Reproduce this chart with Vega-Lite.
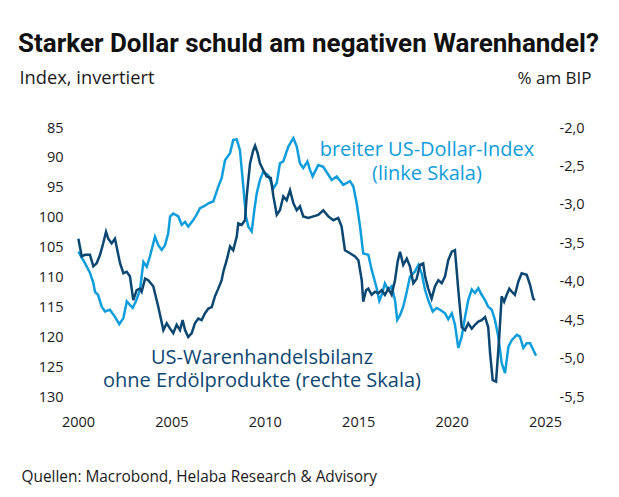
{
  "$schema": "https://vega.github.io/schema/vega-lite/v6.json",
  "width": 467,
  "height": 269,
  "autosize": {"type": "none"},
  "padding": {"left": 78, "top": 128, "right": 74, "bottom": 100},
  "background": "white",
  "config": {
    "view": {"stroke": null},
    "font": "Open Sans",
    "axis": {"grid": false, "domain": false, "ticks": false, "labelOverlap": false, "labelFontSize": 14.5, "labelColor": "#1a1a1a", "titleColor": "#1a1a1a", "titleFontWeight": "normal", "labelFont": "Open Sans", "titleFont": "Open Sans"}
  },
  "title": {
    "text": "Starker Dollar schuld am negativen Warenhandel?",
    "anchor": "start",
    "frame": "group",
    "dx": -60,
    "offset": 11,
    "fontSize": 26,
    "fontWeight": "bold",
    "color": "#111111",
    "font": "Roboto"
  },
  "datasets": {
    "usd": [
      {"t": 2000.02, "v": 105.7}, {"t": 2000.37, "v": 107.6}, {"t": 2000.64, "v": 109.2}, {"t": 2000.82, "v": 110.9},
      {"t": 2000.91, "v": 112.4}, {"t": 2001.07, "v": 112.9}, {"t": 2001.27, "v": 114.9}, {"t": 2001.45, "v": 115.7},
      {"t": 2001.71, "v": 115.4}, {"t": 2001.98, "v": 116.6}, {"t": 2002.21, "v": 117.8}, {"t": 2002.43, "v": 116.8},
      {"t": 2002.61, "v": 114.0}, {"t": 2002.78, "v": 114.6}, {"t": 2002.93, "v": 115.1}, {"t": 2003.10, "v": 114.0},
      {"t": 2003.32, "v": 112.1}, {"t": 2003.50, "v": 107.4}, {"t": 2003.68, "v": 108.2}, {"t": 2003.85, "v": 106.5},
      {"t": 2004.12, "v": 103.2}, {"t": 2004.30, "v": 104.6}, {"t": 2004.48, "v": 105.4}, {"t": 2004.66, "v": 104.6},
      {"t": 2004.83, "v": 102.6}, {"t": 2004.93, "v": 99.8}, {"t": 2005.10, "v": 99.3}, {"t": 2005.37, "v": 99.8},
      {"t": 2005.55, "v": 101.2}, {"t": 2005.73, "v": 100.7}, {"t": 2005.90, "v": 101.5}, {"t": 2006.17, "v": 100.4},
      {"t": 2006.35, "v": 99.5}, {"t": 2006.53, "v": 98.4}, {"t": 2006.80, "v": 98.0}, {"t": 2006.98, "v": 97.6},
      {"t": 2007.24, "v": 97.3}, {"t": 2007.51, "v": 94.8}, {"t": 2007.69, "v": 93.4}, {"t": 2007.87, "v": 90.4},
      {"t": 2008.14, "v": 89.2}, {"t": 2008.31, "v": 87.0}, {"t": 2008.50, "v": 86.9}, {"t": 2008.67, "v": 88.7},
      {"t": 2008.85, "v": 94.8}, {"t": 2008.99, "v": 99.8}, {"t": 2009.12, "v": 101.5}, {"t": 2009.30, "v": 102.3},
      {"t": 2009.44, "v": 98.7}, {"t": 2009.57, "v": 95.9}, {"t": 2009.74, "v": 93.7}, {"t": 2009.92, "v": 92.3},
      {"t": 2010.19, "v": 92.9}, {"t": 2010.46, "v": 95.1}, {"t": 2010.64, "v": 94.2}, {"t": 2010.81, "v": 90.9},
      {"t": 2010.99, "v": 90.6}, {"t": 2011.26, "v": 88.1}, {"t": 2011.53, "v": 86.7}, {"t": 2011.71, "v": 88.1},
      {"t": 2011.88, "v": 90.9}, {"t": 2012.06, "v": 91.7}, {"t": 2012.28, "v": 90.6}, {"t": 2012.42, "v": 92.0},
      {"t": 2012.56, "v": 93.1}, {"t": 2012.86, "v": 91.2}, {"t": 2013.13, "v": 91.5}, {"t": 2013.58, "v": 93.7},
      {"t": 2013.85, "v": 93.1}, {"t": 2014.20, "v": 94.5}, {"t": 2014.56, "v": 93.9}, {"t": 2014.74, "v": 94.8},
      {"t": 2014.92, "v": 97.6}, {"t": 2015.10, "v": 101.5}, {"t": 2015.27, "v": 106.0}, {"t": 2015.54, "v": 106.2},
      {"t": 2015.72, "v": 108.7}, {"t": 2015.99, "v": 111.8}, {"t": 2016.13, "v": 113.9}, {"t": 2016.26, "v": 112.9},
      {"t": 2016.43, "v": 111.0}, {"t": 2016.61, "v": 112.1}, {"t": 2016.79, "v": 111.5}, {"t": 2016.97, "v": 113.8},
      {"t": 2017.09, "v": 117.1}, {"t": 2017.24, "v": 116.3}, {"t": 2017.41, "v": 114.9}, {"t": 2017.60, "v": 112.4},
      {"t": 2017.77, "v": 109.9}, {"t": 2018.04, "v": 109.0}, {"t": 2018.22, "v": 107.9}, {"t": 2018.40, "v": 109.3},
      {"t": 2018.58, "v": 112.1}, {"t": 2018.75, "v": 113.8}, {"t": 2018.99, "v": 115.7}, {"t": 2019.20, "v": 115.1},
      {"t": 2019.38, "v": 115.4}, {"t": 2019.65, "v": 116.0}, {"t": 2019.82, "v": 117.0}, {"t": 2020.01, "v": 116.0},
      {"t": 2020.18, "v": 117.9}, {"t": 2020.36, "v": 121.8}, {"t": 2020.54, "v": 119.9}, {"t": 2020.72, "v": 116.6},
      {"t": 2020.89, "v": 113.8}, {"t": 2021.08, "v": 112.0}, {"t": 2021.25, "v": 112.6}, {"t": 2021.43, "v": 111.8},
      {"t": 2021.61, "v": 112.9}, {"t": 2021.79, "v": 113.8}, {"t": 2021.96, "v": 114.9}, {"t": 2022.15, "v": 115.4},
      {"t": 2022.32, "v": 117.1}, {"t": 2022.50, "v": 119.9}, {"t": 2022.68, "v": 124.3}, {"t": 2022.86, "v": 126.0},
      {"t": 2023.04, "v": 121.6}, {"t": 2023.22, "v": 120.5}, {"t": 2023.49, "v": 119.6}, {"t": 2023.66, "v": 119.9},
      {"t": 2023.84, "v": 121.8}, {"t": 2024.02, "v": 121.0}, {"t": 2024.20, "v": 121.0}, {"t": 2024.37, "v": 122.1},
      {"t": 2024.52, "v": 123.1}
    ],
    "tb": [
      {"t": 2000.02, "v": -3.44}, {"t": 2000.20, "v": -3.67}, {"t": 2000.37, "v": -3.65}, {"t": 2000.64, "v": -3.65},
      {"t": 2000.82, "v": -3.80}, {"t": 2001.00, "v": -3.76}, {"t": 2001.18, "v": -3.65}, {"t": 2001.35, "v": -3.50},
      {"t": 2001.50, "v": -3.35}, {"t": 2001.62, "v": -3.44}, {"t": 2001.80, "v": -3.50}, {"t": 2001.98, "v": -3.44},
      {"t": 2002.25, "v": -3.76}, {"t": 2002.43, "v": -3.89}, {"t": 2002.61, "v": -3.87}, {"t": 2002.78, "v": -3.93},
      {"t": 2002.96, "v": -4.24}, {"t": 2003.14, "v": -4.11}, {"t": 2003.32, "v": -4.09}, {"t": 2003.41, "v": -4.13},
      {"t": 2003.59, "v": -3.96}, {"t": 2003.76, "v": -3.98}, {"t": 2004.03, "v": -4.06}, {"t": 2004.30, "v": -4.33},
      {"t": 2004.57, "v": -4.63}, {"t": 2004.75, "v": -4.54}, {"t": 2004.93, "v": -4.61}, {"t": 2005.10, "v": -4.67},
      {"t": 2005.28, "v": -4.56}, {"t": 2005.46, "v": -4.63}, {"t": 2005.60, "v": -4.50}, {"t": 2005.73, "v": -4.63},
      {"t": 2005.90, "v": -4.72}, {"t": 2006.09, "v": -4.67}, {"t": 2006.26, "v": -4.54}, {"t": 2006.44, "v": -4.48},
      {"t": 2006.62, "v": -4.50}, {"t": 2006.80, "v": -4.41}, {"t": 2006.98, "v": -4.35}, {"t": 2007.16, "v": -4.33},
      {"t": 2007.33, "v": -4.19}, {"t": 2007.51, "v": -4.09}, {"t": 2007.69, "v": -3.98}, {"t": 2007.78, "v": -3.87},
      {"t": 2007.96, "v": -3.72}, {"t": 2008.14, "v": -3.54}, {"t": 2008.31, "v": -3.59}, {"t": 2008.50, "v": -3.41},
      {"t": 2008.58, "v": -3.24}, {"t": 2008.76, "v": -3.26}, {"t": 2008.94, "v": -3.20}, {"t": 2009.03, "v": -2.89},
      {"t": 2009.21, "v": -2.46}, {"t": 2009.38, "v": -2.29}, {"t": 2009.48, "v": -2.23}, {"t": 2009.62, "v": -2.33},
      {"t": 2009.74, "v": -2.46}, {"t": 2009.92, "v": -2.55}, {"t": 2010.10, "v": -2.63}, {"t": 2010.32, "v": -2.65},
      {"t": 2010.46, "v": -2.89}, {"t": 2010.64, "v": -3.13}, {"t": 2010.81, "v": -3.07}, {"t": 2010.99, "v": -2.89},
      {"t": 2011.17, "v": -2.94}, {"t": 2011.35, "v": -2.81}, {"t": 2011.53, "v": -2.98}, {"t": 2011.71, "v": -3.07},
      {"t": 2011.88, "v": -3.02}, {"t": 2012.06, "v": -3.15}, {"t": 2012.33, "v": -3.17}, {"t": 2012.60, "v": -3.15},
      {"t": 2012.86, "v": -3.13}, {"t": 2013.13, "v": -3.07}, {"t": 2013.40, "v": -3.15}, {"t": 2013.67, "v": -3.20},
      {"t": 2013.93, "v": -3.17}, {"t": 2014.11, "v": -3.28}, {"t": 2014.29, "v": -3.59}, {"t": 2014.56, "v": -3.63},
      {"t": 2014.83, "v": -3.67}, {"t": 2015.01, "v": -3.72}, {"t": 2015.19, "v": -3.98}, {"t": 2015.27, "v": -4.26},
      {"t": 2015.42, "v": -4.11}, {"t": 2015.54, "v": -4.09}, {"t": 2015.72, "v": -4.17}, {"t": 2015.90, "v": -4.13},
      {"t": 2016.08, "v": -4.15}, {"t": 2016.26, "v": -4.11}, {"t": 2016.43, "v": -4.17}, {"t": 2016.61, "v": -4.09},
      {"t": 2016.79, "v": -4.17}, {"t": 2016.97, "v": -3.98}, {"t": 2017.11, "v": -3.74}, {"t": 2017.24, "v": -3.61},
      {"t": 2017.41, "v": -3.78}, {"t": 2017.60, "v": -3.70}, {"t": 2017.77, "v": -3.80}, {"t": 2017.95, "v": -4.02},
      {"t": 2018.13, "v": -3.96}, {"t": 2018.31, "v": -3.78}, {"t": 2018.48, "v": -3.76}, {"t": 2018.58, "v": -3.93},
      {"t": 2018.75, "v": -4.09}, {"t": 2018.93, "v": -4.22}, {"t": 2019.11, "v": -4.06}, {"t": 2019.29, "v": -3.98},
      {"t": 2019.47, "v": -4.02}, {"t": 2019.65, "v": -3.93}, {"t": 2019.82, "v": -3.72}, {"t": 2020.01, "v": -3.61},
      {"t": 2020.18, "v": -3.59}, {"t": 2020.36, "v": -4.11}, {"t": 2020.54, "v": -4.59}, {"t": 2020.72, "v": -4.63},
      {"t": 2020.89, "v": -4.54}, {"t": 2021.08, "v": -4.61}, {"t": 2021.25, "v": -4.56}, {"t": 2021.43, "v": -4.52},
      {"t": 2021.61, "v": -4.50}, {"t": 2021.79, "v": -4.46}, {"t": 2021.96, "v": -4.59}, {"t": 2022.06, "v": -4.93},
      {"t": 2022.20, "v": -5.28}, {"t": 2022.38, "v": -5.30}, {"t": 2022.55, "v": -4.72}, {"t": 2022.68, "v": -4.19},
      {"t": 2022.81, "v": -4.26}, {"t": 2022.95, "v": -4.17}, {"t": 2023.09, "v": -4.09}, {"t": 2023.22, "v": -4.13},
      {"t": 2023.39, "v": -4.17}, {"t": 2023.57, "v": -4.00}, {"t": 2023.75, "v": -3.89}, {"t": 2024.02, "v": -3.91},
      {"t": 2024.20, "v": -4.04}, {"t": 2024.37, "v": -4.22}, {"t": 2024.46, "v": -4.24}
    ],
    "usdLabel": [
      {"t": 2018.68, "v": 88.7, "label": "breiter US-Dollar-Index"},
      {"t": 2018.68, "v": 92.7, "label": "(linke Skala)"}
    ],
    "tbLabel": [
      {"t": 2009.85, "v": -4.99, "label": "US-Warenhandelsbilanz"},
      {"t": 2009.85, "v": -5.29, "label": "ohne Erdölprodukte (rechte Skala)"}
    ]
  },
  "layer": [
    {
      "layer": [
        {
          "data": {"name": "usd"},
          "mark": {"type": "line", "color": "#0f9ddc", "strokeWidth": 2.5, "clip": false},
          "encoding": {
            "x": {"field": "t", "type": "quantitative", "scale": {"domain": [2000, 2025], "nice": false},
              "axis": {"values": [2000, 2005, 2010, 2015, 2020, 2025], "tickCount": 30, "format": "d", "labelPadding": 18, "labelFlush": false, "labelOverlap": false,
                "title": "Quellen: Macrobond, Helaba Research & Advisory", "titleX": -57, "titleY": 79, "titleAlign": "left", "titleBaseline": "middle", "titleFontSize": 15.4}},
            "y": {"field": "v", "type": "quantitative", "scale": {"domain": [85, 130], "reverse": true, "zero": false, "nice": false},
              "axis": {"orient": "left", "values": [85, 90, 95, 100, 105, 110, 115, 120, 125, 130], "tickCount": 30, "labelPadding": 15, "labelFlush": false, "labelOverlap": false, "labelBound": false,
                "title": "Index, invertiert", "titleAngle": 0, "titleAlign": "left", "titleBaseline": "middle", "titleX": -59, "titleY": -50, "titleFontSize": 18.3}}
          }
        },
        {
          "data": {"name": "usdLabel"},
          "mark": {"type": "text", "color": "#0f9ddc", "fontSize": 20, "align": "center", "baseline": "middle", "font": "Open Sans"},
          "encoding": {
            "x": {"field": "t", "type": "quantitative"},
            "y": {"field": "v", "type": "quantitative"},
            "text": {"field": "label"}
          }
        }
      ]
    },
    {
      "layer": [
        {
          "data": {"name": "tb"},
          "mark": {"type": "line", "color": "#0c4771", "strokeWidth": 2.5, "clip": false},
          "encoding": {
            "x": {"field": "t", "type": "quantitative"},
            "y": {"field": "v", "type": "quantitative", "scale": {"domain": [-5.5, -2.0], "zero": false, "nice": false},
              "axis": {"orient": "right", "values": [-5.5, -5.0, -4.5, -4.0, -3.5, -3.0, -2.5, -2.0], "tickCount": 30, "labelPadding": 14, "labelFlush": false, "labelOverlap": false, "labelBound": false,
                "labelExpr": "'-' + replace(format(abs(datum.value), '.1f'), '.', ',')",
                "title": "% am BIP", "titleAngle": 0, "titleAlign": "right", "titleBaseline": "middle", "titleX": 46, "titleY": -50, "titleFontSize": 17}}
          }
        },
        {
          "data": {"name": "tbLabel"},
          "mark": {"type": "text", "color": "#0c4771", "fontSize": 20, "align": "center", "baseline": "middle", "font": "Open Sans"},
          "encoding": {
            "x": {"field": "t", "type": "quantitative"},
            "y": {"field": "v", "type": "quantitative"},
            "text": {"field": "label"}
          }
        }
      ]
    }
  ],
  "resolve": {"scale": {"y": "independent"}, "axis": {"y": "independent"}}
}
